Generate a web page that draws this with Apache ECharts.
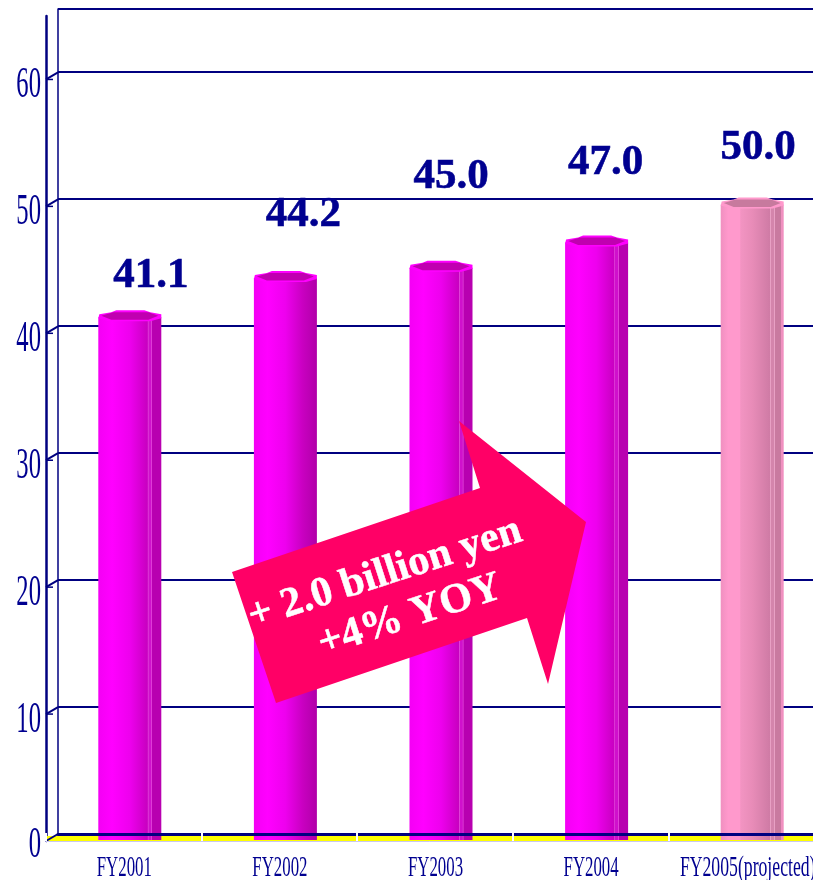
<!DOCTYPE html>
<html><head><meta charset="utf-8">
<style>html,body{margin:0;padding:0;background:#fff}#c{width:813px;height:880px}</style>
<script src="https://cdn.jsdelivr.net/npm/echarts@6/dist/echarts.min.js"></script>
</head><body><div id="c"></div>
<script>
const categories = ['FY2001','FY2002','FY2003','FY2004','FY2005(projected)'];
const values = [41.1,44.2,45.0,47.0,50.0];
const valueLabels = ['41.1','44.2','45.0','47.0','50.0'];
const yTicks = [0,10,20,30,40,50,60];
const arrowLine1 = '+ 2.0 billion yen';
const arrowLine2 = '+4% YOY';

const NAVY='#000080', TEXT='#000090';
const labelShift=[[21,-36],[18,-58],[10,-86],[9,-75],[6,-51]];
const chart=echarts.init(document.getElementById('c'),null,{renderer:'canvas'});
const G=echarts.graphic;
function grad(stops){return new G.LinearGradient(0,0,1,0,stops.map(s=>({offset:s[0],color:s[1]})));}
const magenta=(st)=>grad([[0,'#f400f4'],[.22,'#ff00ff'],[.5,'#ee00ee'],[.78,'#c800c0'],
  ...(st?[[.785,'#e040d8'],[.795,'#e040d8'],[.80,'#d010cc'],[.84,'#d010cc'],[.845,'#e040d8'],[.855,'#e040d8'],[.86,'#b800b0'],[1,'#b800b0']]:[[1,'#b000a8']])]);
const pink=grad([[0,'#f090c0'],[.12,'#ff99cc'],[.3,'#ff99cc'],[.32,'#f294c2'],[.5,'#e88cb8'],[.78,'#cf7ba5'],[.785,'#e8a0c4'],[.795,'#e8a0c4'],[.80,'#d485ac'],[.84,'#d485ac'],[.845,'#e8a0c4'],[.855,'#e8a0c4'],[.86,'#c97aa0'],[.95,'#c97aa0'],[.96,'#f090c0'],[1,'#f090c0']]);

function renderBar(params,api){
  const i=params.dataIndex, p=api.coord([api.value(0),api.value(1)]), base=api.coord([api.value(0),0]);
  const cx=p[0]+6, top=p[1]-4, bot=base[1]-1, hw=31.5;
  const isP=i===4;
  const rim=isP?'#ff99cc':'#ff00ff', inner=isP?'#c77a9e':'#c000b0';
  return {type:'group',children:[
    {type:'rect',shape:{x:cx-hw,y:top+2,width:hw*2,height:bot-top-2},style:{fill:isP?pink:magenta(i!==1)}},
    {type:'polygon',shape:{points:[[cx-hw,top+3],[cx-hw+1,top-1],[cx-hw+13,top-3],[cx-hw+18,top-5],[cx+hw-17,top-5],[cx+hw-11,top-3],[cx+hw,top-1],[cx+hw,top+3],[cx+hw-11,top+6],[cx-hw+11,top+6]]},style:{fill:rim}},
    {type:'polygon',shape:{points:[[cx-hw+3,top+0.5],[cx-hw+15,top-3],[cx+hw-13,top-3],[cx+hw-3,top+0.5],[cx+hw-13,top+4.5],[cx-hw+13,top+4.5]]},style:{fill:inner}}
  ]};
}
function renderValueLabel(params,api){
  const i=params.dataIndex, p=api.coord([api.value(0),api.value(1)]);
  return {type:'text',x:p[0]+6+labelShift[i][0],y:p[1]-7+labelShift[i][1],
    style:{text:valueLabels[i],fill:TEXT,stroke:TEXT,lineWidth:.6,font:'bold 43px "Liberation Serif"',textAlign:'center',textVerticalAlign:'middle'}};
}
function renderSide(params,api){
  const p=api.coord([0,api.value(0)]), x0=46, y0=p[1], tick=api.value(0);
  const ch=[
    {type:'line',shape:{x1:x0,y1:y0,x2:x0+12,y2:y0-7},style:{stroke:NAVY,lineWidth:2}},
    {type:'text',x:41,y:y0+(tick>0?6:4),scaleX:.56,style:{text:String(tick),fill:TEXT,font:'44px "Liberation Serif"',textAlign:'right',textVerticalAlign:'middle'}}
  ];
  if(tick>0) ch.push({type:'line',shape:{x1:x0,y1:y0,x2:x0+7,y2:y0},style:{stroke:NAVY,lineWidth:1.5}});
  return {type:'group',children:ch};
}
function renderCat(params,api){
  const p=api.coord([api.value(0),0]), last=params.dataIndex===4;
  return {type:'text',x:p[0]+(last?1.5:.5),y:868,scaleX:last?.61:.58,
    style:{text:categories[params.dataIndex],fill:TEXT,font:'29px "Liberation Serif"',textAlign:'center',textVerticalAlign:'middle'}};
}
function renderFloor(params,api){
  const p=api.coord([0,0]);
  return {type:'rect',shape:{x:47,y:p[1]-5,width:770,height:5},style:{fill:'#ffff00'}};
}
chart.setOption({
  backgroundColor:'#fff',animation:false,
  grid:[{left:58,top:9,width:755,height:825,outerBoundsMode:'none'},{left:46,top:16,width:778,height:825,outerBoundsMode:'none'}],
  xAxis:[
    {gridIndex:0,type:'value',min:0,max:1,z:3,axisLabel:{show:false},axisTick:{show:false},splitLine:{show:false},axisLine:{show:true,lineStyle:{color:NAVY,width:3}}},
    {gridIndex:1,type:'category',data:categories,z:5,axisLabel:{show:false},axisTick:{show:true,inside:true,length:8,lineStyle:{color:'#fff',width:2}},axisLine:{show:true,lineStyle:{color:'#c8c8f0',width:1}}}
  ],
  yAxis:[
    {gridIndex:0,type:'value',min:0,max:64.9,interval:10,axisLabel:{show:false},axisTick:{show:false},
      axisLine:{show:true,lineStyle:{color:NAVY,width:1.5}},splitLine:{show:true,lineStyle:{color:NAVY,width:2}}},
    {gridIndex:1,type:'value',min:0,max:65,interval:10,axisLabel:{show:false},axisTick:{show:false},
      axisLine:{show:true,lineStyle:{color:NAVY,width:2.5}},splitLine:{show:false}}
  ],
  series:[
    {type:'custom',xAxisIndex:1,yAxisIndex:1,z:1,silent:true,data:[[0]],renderItem:renderFloor},
    {type:'custom',xAxisIndex:1,yAxisIndex:1,z:2,silent:true,data:yTicks.map(v=>[v]),encode:{y:0},renderItem:renderSide},
    {type:'custom',name:'bars',xAxisIndex:1,yAxisIndex:1,z:3,silent:true,data:categories.map((c,i)=>[c,values[i]]),encode:{x:0,y:1},renderItem:renderBar},
    {type:'custom',name:'labels',xAxisIndex:1,yAxisIndex:1,z:4,silent:true,data:categories.map((c,i)=>[c,values[i]]),encode:{x:0,y:1},renderItem:renderValueLabel},
    {type:'custom',name:'cats',xAxisIndex:1,yAxisIndex:1,z:4,silent:true,data:categories.map(c=>[c]),encode:{x:0},renderItem:renderCat}
  ],
  graphic:[
    {type:'polygon',z:100,shape:{points:[[232,572],[480,488],[459,421],[586,522],[548,684],[527,618],[276,703]]},style:{fill:'#ff0066'}},
    {type:'text',z:101,x:385,y:574,rotation:18*Math.PI/180,style:{text:arrowLine1,fill:'#fff',stroke:'#fff',lineWidth:.5,font:'bold 42px "Liberation Serif"',textAlign:'center',textVerticalAlign:'middle'}},
    {type:'text',z:101,x:410,y:616,rotation:18*Math.PI/180,style:{text:arrowLine2,fill:'#fff',stroke:'#fff',lineWidth:.5,font:'bold 42px "Liberation Serif"',textAlign:'center',textVerticalAlign:'middle'}}
  ]
});
</script></body></html>
